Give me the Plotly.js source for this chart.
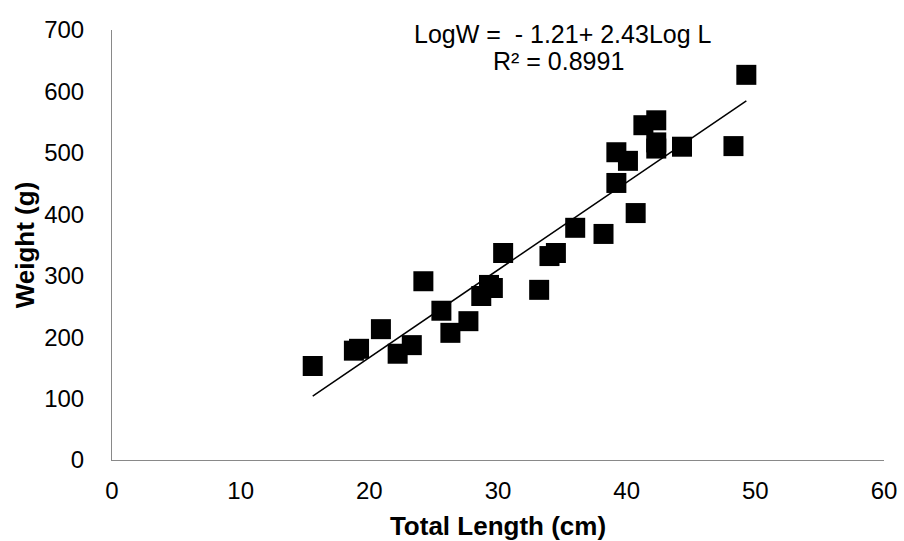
<!DOCTYPE html>
<html>
<head>
<meta charset="utf-8">
<script src="https://cdn.plot.ly/plotly-3.0.1.min.js"></script>
<style>html,body{margin:0;padding:0;background:#fff;}#chart{width:904px;height:541px;}</style>
</head>
<body>
<div id="chart"></div>
<script>
// Total length (cm) and weight (g)
const lengthCm = [15.6, 18.8, 19.2, 20.9, 22.2, 23.3, 24.2, 25.6, 26.3, 27.7,
                  28.7, 29.3, 29.6, 30.4, 33.2, 34.0, 34.5, 36.0, 38.2, 40.7,
                  39.2, 39.2, 40.1, 41.3, 42.3, 42.3, 42.3, 44.3, 48.3, 49.3];
const weightG  = [153, 178, 181, 213, 173, 187, 291, 243, 207, 226,
                  267, 285, 280, 337, 277, 332, 337, 378, 368, 402,
                  451, 501, 487, 545, 553, 517, 507, 510, 511, 627];
const xTicks = [0, 10, 20, 30, 40, 50, 60];
const yTicks = [0, 100, 200, 300, 400, 500, 600, 700];
const equationText = "LogW =  - 1.21+ 2.43Log L";
const r2Text = "R\u00b2 = 0.8991";
const xTitle = "Total Length (cm)";
const yTitle = "Weight (g)";

// least-squares linear trend line computed from the data
const n = lengthCm.length;
const mx = lengthCm.reduce((a, b) => a + b, 0) / n;
const my = weightG.reduce((a, b) => a + b, 0) / n;
let sxy = 0, sxx = 0;
for (let i = 0; i < n; i++) { sxy += (lengthCm[i] - mx) * (weightG[i] - my); sxx += (lengthCm[i] - mx) ** 2; }
const slope = sxy / sxx, intercept = my - slope * mx;
const xMin = Math.min(...lengthCm), xMax = Math.max(...lengthCm);
const trendX = [xMin, xMax];
const trendY = trendX.map(x => intercept + slope * x);

const FONT = "Liberation Sans, Arial, sans-serif";

const traces = [
  {
    x: lengthCm, y: weightG, type: "scatter", mode: "markers",
    marker: { symbol: "square", size: 20, color: "#000000" },
    hoverinfo: "x+y", showlegend: false
  },
  {
    x: trendX, y: trendY, type: "scatter", mode: "lines",
    line: { color: "#000000", width: 1.5 },
    hoverinfo: "skip", showlegend: false
  }
];

const layout = {
  width: 904, height: 541,
  margin: { l: 112, r: 20, t: 30, b: 81, pad: 0 },
  paper_bgcolor: "#ffffff", plot_bgcolor: "#ffffff",
  font: { family: FONT, size: 24, color: "#000000" },
  showlegend: false,
  xaxis: {
    range: [0, 60], tickvals: xTicks, ticktext: xTicks.map(String),
    showgrid: false, zeroline: false, showline: true, linecolor: "#898989", linewidth: 1,
    ticks: "", ticklabelstandoff: 9,
    tickfont: { family: FONT, size: 24, color: "#000000" },
    title: { text: xTitle, font: { family: FONT, size: 26, color: "#000000", weight: "bold" }, standoff: 14 },
    fixedrange: true
  },
  yaxis: {
    range: [0, 700], tickvals: yTicks, ticktext: yTicks.map(String),
    showgrid: false, zeroline: false, showline: true, linecolor: "#898989", linewidth: 1,
    ticks: "", ticklabelstandoff: 22,
    tickfont: { family: FONT, size: 24, color: "#000000" },
    title: { text: yTitle, font: { family: FONT, size: 26, color: "#000000", weight: "bold" }, standoff: 2 },
    fixedrange: true
  },
  annotations: [
    { xref: "paper", yref: "paper", x: 0.5842, y: 0.9907, text: equationText, showarrow: false,
      xanchor: "center", yanchor: "middle", font: { family: FONT, size: 25, color: "#000000" } },
    { xref: "paper", yref: "paper", x: 0.5790, y: 0.9279, text: r2Text, showarrow: false,
      xanchor: "center", yanchor: "middle", font: { family: FONT, size: 25, color: "#000000" } }
  ]
};

Plotly.newPlot("chart", traces, layout, { staticPlot: true, displayModeBar: false });
</script>
</body>
</html>
